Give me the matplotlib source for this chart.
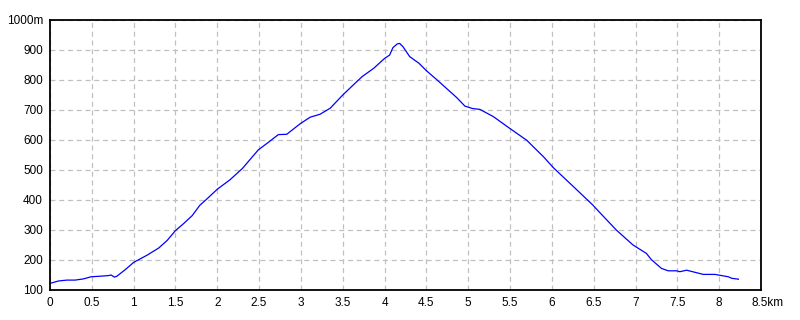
import matplotlib
matplotlib.use('Agg')
import matplotlib.pyplot as plt
import matplotlib.transforms as mtransforms
import numpy as np

# elevation profile
dist_km = [0.0, 0.1, 0.2, 0.3, 0.4, 0.49, 0.6, 0.7, 0.73, 0.77, 0.8, 0.9,
           1.0, 1.1, 1.16, 1.3, 1.4, 1.5, 1.6, 1.7, 1.79, 1.87, 2.0, 2.15,
           2.3, 2.49, 2.6, 2.73, 2.83, 2.99, 3.11, 3.23, 3.35, 3.5, 3.62,
           3.73, 3.87, 4.0, 4.06, 4.1, 4.15, 4.18, 4.22, 4.3, 4.41, 4.5,
           4.62, 4.74, 4.86, 4.96, 5.05, 5.14, 5.3, 5.49, 5.7, 5.9, 6.02,
           6.26, 6.49, 6.58, 6.77, 6.97, 7.13, 7.19, 7.31, 7.39, 7.49, 7.53,
           7.61, 7.71, 7.81, 7.95, 8.01, 8.11, 8.15, 8.23]
elev_m = [122, 130, 133, 133, 137, 144, 146, 148, 150, 143, 146, 168,
          192, 207, 216, 240, 265, 298, 322, 348, 382, 402, 436, 467,
          505, 567, 590, 618, 619, 654, 676, 686, 706, 750, 782,
          811, 839, 872, 883, 908, 920, 922, 911, 878, 856, 831,
          802, 772, 742, 713, 705, 702, 678, 640, 599, 544, 507,
          444, 383, 356, 300, 250, 222, 201, 172, 164, 164, 161,
          166, 159, 152, 152, 149, 144, 139, 136]

x_ticks = [0, 0.5, 1, 1.5, 2, 2.5, 3, 3.5, 4, 4.5, 5, 5.5, 6, 6.5, 7, 7.5, 8, 8.5]
x_labels = ['0', '0.5', '1', '1.5', '2', '2.5', '3', '3.5', '4', '4.5',
            '5', '5.5', '6', '6.5', '7', '7.5', '8', '8.5km']
y_ticks = [100, 200, 300, 400, 500, 600, 700, 800, 900, 1000]
y_labels = ['100', '200', '300', '400', '500', '600', '700', '800', '900', '1000m']

plt.rcParams['font.family'] = ['Liberation Sans', 'DejaVu Sans']

fig = plt.figure(figsize=(8, 3.2), dpi=100)
ax = fig.add_axes([50 / 800, 30 / 320, 711 / 800, 270 / 320])

ax.plot(dist_km, elev_m, color='#0000ff', linewidth=0.9)

ax.set_xlim(0, 8.5)
ax.set_ylim(100, 1000)
ax.set_xticks(x_ticks)
ax.set_xticklabels(x_labels, fontsize=8.5)
ax.set_yticks(y_ticks)
ax.set_yticklabels(y_labels, fontsize=8.5)
ax.tick_params(length=0, pad=5)

# keep "8.5" centred under its gridline, with "km" hanging to the right
last = ax.get_xticklabels()[-1]
last.set_transform(last.get_transform() +
                   mtransforms.ScaledTranslation(0.07, 0, fig.dpi_scale_trans))

ax.grid(True, color='#c0c0c0', linestyle=(0, (4, 3)), linewidth=0.9)
ax.set_axisbelow(True)
for s in ax.spines.values():
    s.set_linewidth(1.3)
    s.set_color('black')

fig.savefig('out.png', dpi=100)
plt.close(fig)
